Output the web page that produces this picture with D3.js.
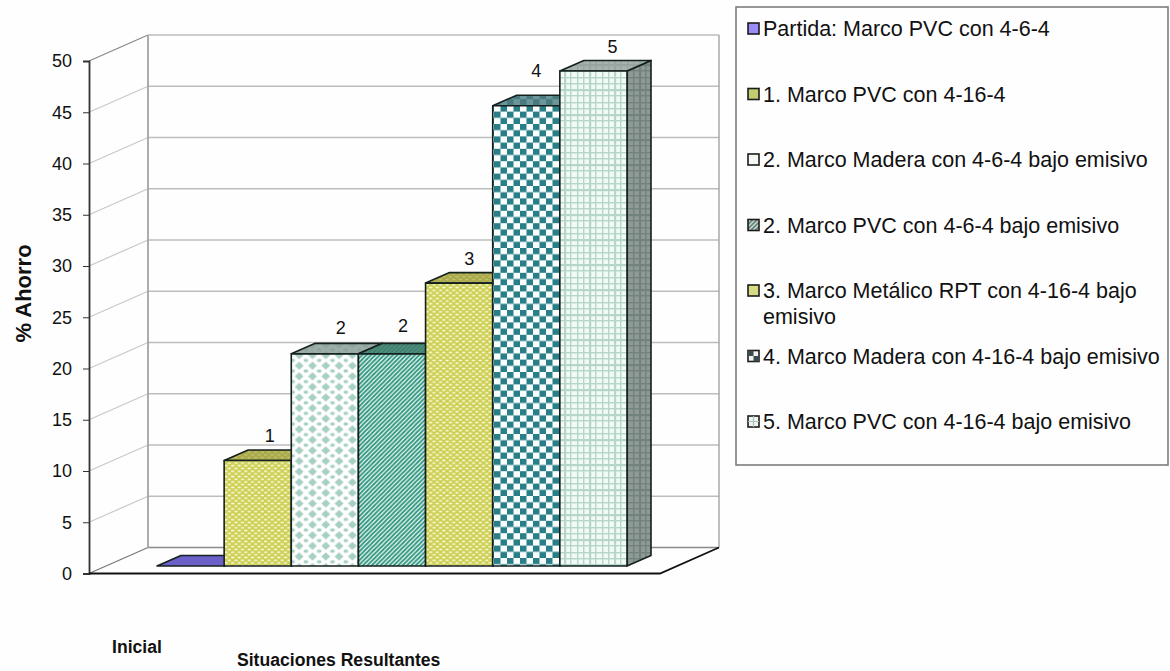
<!DOCTYPE html>
<html lang="es">
<head>
<meta charset="utf-8">
<script src="https://cdn.jsdelivr.net/npm/d3@7"></script>
<style>
  html, body { margin: 0; padding: 0; background: #fefefe; }
  svg { display: block; }
  text { font-family: "Liberation Sans", Arial, sans-serif; fill: #111; }
</style>
</head>
<body>
<svg id="chart" width="1170" height="671"></svg>
<script>
// Savings per glazing and frame option
const categories = ["Partida", "1", "2a", "2b", "3", "4", "5"];
const values = [0, 10.3, 20.7, 20.7, 27.6, 44.9, 48.3];
const valueLabels = ["", "1", "2", "2", "3", "4", "5"];
const yTicks = [0, 5, 10, 15, 20, 25, 30, 35, 40, 45, 50];
const legendLabels = [
  ["Partida: Marco PVC con 4-6-4"],
  ["1. Marco PVC con 4-16-4"],
  ["2. Marco Madera con 4-6-4 bajo emisivo"],
  ["2. Marco PVC con 4-6-4 bajo emisivo"],
  ["3. Marco Metálico RPT con 4-16-4 bajo", "emisivo"],
  ["4. Marco Madera con 4-16-4 bajo emisivo"],
  ["5. Marco PVC con 4-16-4 bajo emisivo"]
];

// Layout of the pseudo-3D box
const frontX = 89, floorRight = 660;
const wallDX = 59, wallDY = -26;      // front plane to back wall
const barDX = 24, barDY = -10.5;      // depth of one bar
const barPlaneDY = -7.5;              // bars stand slightly behind the front edge

const svg = d3.select("#chart");
const y = d3.scaleLinear().domain([0, 50]).range([573.5, 61]);
const x = d3.scaleBand().domain(categories).range([157, 627]);
const poly = pts => pts.map(p => p.join(",")).join(" ");

const defs = svg.append("defs");
function tile(id, w, h, bg, draw) {
  const p = defs.append("pattern").attr("id", id).attr("patternUnits", "userSpaceOnUse")
    .attr("width", w).attr("height", h);
  p.append("rect").attr("width", w).attr("height", h).attr("fill", bg);
  draw(p);
}
const dot = (p, cx, cy, rx, ry, c) => p.append("ellipse")
  .attr("cx", cx).attr("cy", cy).attr("rx", rx).attr("ry", ry).attr("fill", c);
const box = (p, a, b, w, h, c) => p.append("rect")
  .attr("x", a).attr("y", b).attr("width", w).attr("height", h).attr("fill", c);
const stripe = (p, c, sw, size) => p.append("path")
  .attr("d", `M-1,${size + 1}L${size + 1},-1M${-size},${size}L${size},${-size}M0,${2 * size}L${2 * size},0`)
  .attr("stroke", c).attr("stroke-width", sw).attr("fill", "none");

function dotted(id, bg, fg) {
  tile(id, 6.6, 5.4, bg, p => {
    dot(p, 1.7, 1.35, 1.8, 0.85, fg);
    dot(p, 5, 4.05, 1.8, 0.85, fg);
  });
}
function diamonds(id, bg, fg) {
  tile(id, 13.3, 10.6, bg, p => {
    p.append("polygon").attr("fill", fg).attr("points", "6.6,1.2 11,5.3 6.6,9.4 2.2,5.3");
    dot(p, 0, 0, 2.4, 1.6, fg);
    dot(p, 13.3, 0, 2.4, 1.6, fg);
    dot(p, 0, 10.6, 2.4, 1.6, fg);
    dot(p, 13.3, 10.6, 2.4, 1.6, fg);
  });
}
function diagonal(id, bg, fg) {
  tile(id, 4.4, 4.4, bg, p => stripe(p, fg, 1.9, 4.4));
}
function checker(id, bg, fg) {
  tile(id, 13, 12.4, bg, p => {
    box(p, 0, 0, 6.5, 6.2, fg);
    box(p, 6.5, 6.2, 6.5, 6.2, fg);
  });
}
function plaid(id, bg, fg) {
  tile(id, 25, 25, bg, p => {
    [2, 8, 14, 20].forEach((v, i) => {
      box(p, v, 0, i === 2 ? 2.2 : 1.4, 25, fg);
      box(p, 0, v, 25, i === 2 ? 2.2 : 1.4, fg);
    });
  });
}

// Front, top and side fills for each bar
dotted("f1", "#cdcf55", "#f9fad6");
dotted("t1", "#a9a94a", "#c2c270");
diamonds("f2", "#fdfefd", "#a6d0c2");
diamonds("t2", "#9bafa8", "#8ea49c");
diagonal("f3", "#f4faf7", "#2f9680");
diagonal("t3", "#55927f", "#3d7f6e");
checker("f4", "#fbfdfd", "#287f88");
checker("t4", "#6d969a", "#487a80");
plaid("f5", "#f2faf6", "#b6d6ca");
plaid("t5", "#a6b2ae", "#98a5a0");
plaid("s5", "#8d9a95", "#74827d");
diagonal("sw4", "#e4ece8", "#5f7f74");

const frontFill = ["#6a60c8", "url(#f1)", "url(#f2)", "url(#f3)", "url(#f1)", "url(#f4)", "url(#f5)"];
const topFill = ["#6a60c8", "url(#t1)", "url(#t2)", "url(#t3)", "url(#t1)", "url(#t4)", "url(#t5)"];
const sideFill = ["#5148a0", "#8e8e3e", "#8aa098", "#3d7f6e", "#8e8e3e", "#3d6e74", "url(#s5)"];
const swatchFill = ["#9b8cf5", "#c4cc72", "#f6f8f6", "url(#sw4)", "#d7db82", "#f2f4f4", "#f0f5f2"];
const labelNudge = [[0, 0], [12, -18.4], [16, -20], [11, -22], [10, -18], [10, -28.7], [19, -18]];

// Walls and floor
const grid = svg.append("g").attr("fill", "none");
yTicks.forEach(t => {
  const yy = y(t);
  grid.append("line").attr("x1", frontX).attr("y1", yy)
    .attr("x2", frontX + wallDX).attr("y2", yy + wallDY)
    .attr("stroke", t === 0 ? "#777" : t === 50 ? "#888" : "#c8c8c8").attr("stroke-width", 1.2);
  grid.append("line").attr("x1", frontX + wallDX).attr("y1", yy + wallDY)
    .attr("x2", floorRight + wallDX).attr("y2", yy + wallDY)
    .attr("stroke", t === 0 ? "#8a8a8a" : "#bdbdbd").attr("stroke-width", t === 0 ? 1.6 : 1.4);
});
[frontX + wallDX, floorRight + wallDX].forEach((vx, i) => {
  grid.append("line").attr("x1", vx).attr("x2", vx)
    .attr("y1", y(50) + wallDY).attr("y2", y(0) + wallDY)
    .attr("stroke", "#a3a3a3").attr("stroke-width", i ? 1.4 : 1.8);
});

// Front edges and value axis
const axis = d3.axisLeft(y).tickValues(yTicks).tickSize(6).tickPadding(11).tickFormat(d3.format("d"));
const axisG = svg.append("g").attr("transform", `translate(${frontX},0)`).call(axis);
axisG.select(".domain").attr("stroke", "#333").attr("stroke-width", 1.8);
axisG.selectAll(".tick line").attr("stroke", "#333");
axisG.selectAll(".tick text").attr("font-size", 18).attr("font-family", '"Liberation Sans", Arial, sans-serif').attr("fill", "#111");

svg.append("polyline")
  .attr("points", poly([[frontX, y(0)], [floorRight, y(0)], [floorRight + wallDX, y(0) + wallDY]]))
  .attr("fill", "none").attr("stroke", "#111").attr("stroke-width", 1.8);

// Bars, left to right so that each one hides the side of the previous
const bars = svg.append("g").attr("stroke", "#14201e").attr("stroke-width", 1.6).attr("stroke-linejoin", "round");
categories.forEach((c, i) => {
  const x0 = x(c), x1 = x0 + x.bandwidth();
  const yb = y(0) + barPlaneDY, yt = y(values[i]) + barPlaneDY;
  const g = bars.append("g").attr("class", "bar");
  g.append("polygon").attr("fill", sideFill[i])
    .attr("points", poly([[x1, yt], [x1 + barDX, yt + barDY], [x1 + barDX, yb + barDY], [x1, yb]]));
  g.append("polygon").attr("fill", topFill[i])
    .attr("points", poly([[x0, yt], [x0 + barDX, yt + barDY], [x1 + barDX, yt + barDY], [x1, yt]]));
  if (values[i] > 0) {
    g.append("rect").attr("x", x0).attr("y", yt).attr("width", x.bandwidth()).attr("height", yb - yt)
      .attr("fill", frontFill[i]);
  }
});

// Value labels above the bars
categories.forEach((c, i) => {
  svg.append("text").attr("text-anchor", "middle").attr("font-size", 18)
    .attr("x", x(c) + x.bandwidth() / 2 + labelNudge[i][0])
    .attr("y", y(values[i]) + barPlaneDY + labelNudge[i][1])
    .text(valueLabels[i]);
});

// Axis titles
svg.append("text").attr("transform", "translate(31,293.5) rotate(-90)")
  .attr("text-anchor", "middle").attr("font-weight", "bold").attr("font-size", 22).text("% Ahorro");
svg.append("text").attr("x", 112).attr("y", 653).attr("font-weight", "bold").attr("font-size", 17.6).text("Inicial");
svg.append("text").attr("x", 237).attr("y", 666).attr("font-weight", "bold").attr("font-size", 17.6).text("Situaciones Resultantes");

// Legend
const lg = svg.append("g");
lg.append("rect").attr("x", 736).attr("y", 7).attr("width", 432).attr("height", 458)
  .attr("fill", "#fefefe").attr("stroke", "#7d7d7d").attr("stroke-width", 1.6);
const rowY = d3.scalePoint().domain(d3.range(legendLabels.length)).range([29, 422]);
legendLabels.forEach((lines, i) => {
  const cy = rowY(i);
  lg.append("rect").attr("x", 748).attr("y", cy - 6).attr("width", 11).attr("height", 11)
    .attr("fill", swatchFill[i]).attr("stroke", "#1c1c1c").attr("stroke-width", 1.6);
  // Keys 4 and 5 carry a fragment of their bar's pattern
  if (i === 5) {
    lg.append("rect").attr("x", 748).attr("y", cy - 6).attr("width", 5.5).attr("height", 5.5).attr("fill", "#3a4a4d");
    lg.append("rect").attr("x", 753.5).attr("y", cy - 0.5).attr("width", 5.5).attr("height", 5.5).attr("fill", "#3a4a4d");
  }
  if (i === 6) {
    lg.append("path").attr("d", `M753.5,${cy - 6}V${cy + 5}M748,${cy - 0.5}H759`)
      .attr("stroke", "#a9c4b9").attr("stroke-width", 1.2);
  }
  lines.forEach((line, k) => {
    lg.append("text").attr("x", 763).attr("y", cy + 7 + k * 25.5)
      .attr("font-size", 21.5).text(line);
  });
});
</script>
</body>
</html>
